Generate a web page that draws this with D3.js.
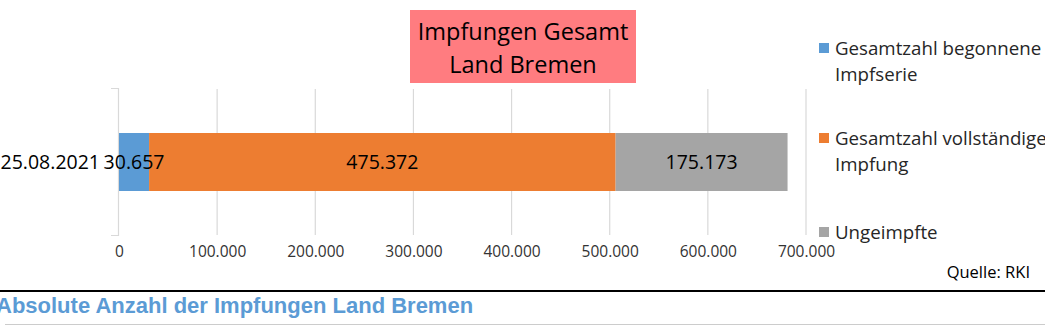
<!DOCTYPE html>
<html>
<head>
<meta charset="utf-8">
<script src="https://cdn.jsdelivr.net/npm/d3@7/dist/d3.min.js"></script>
<style>
  html, body { margin: 0; padding: 0; background: #fff; overflow: hidden; }
  svg { display: block; }
</style>
</head>
<body>
<svg id="chart" width="1045" height="325"></svg>
<script>
// Impfungen Land Bremen, Stand 25.08.2021
const categories = ["25.08.2021"];
const seriesNames = [
  ["Gesamtzahl begonnene", "Impfserie"],
  ["Gesamtzahl vollständige", "Impfung"],
  ["Ungeimpfte"]
];
const seriesKeys = ["begonnen", "vollstaendig", "ungeimpft"];
const begonnen = [30657];
const vollstaendig = [475372];
const ungeimpft = [175173];
const tickValues = [0, 100000, 200000, 300000, 400000, 500000, 600000, 700000];
const colors = ["#5B9BD5", "#ED7D31", "#A5A5A5"];

const rows = categories.map((c, i) => ({
  date: c,
  begonnen: begonnen[i],
  vollstaendig: vollstaendig[i],
  ungeimpft: ungeimpft[i]
}));

const fmt = v => d3.format(",")(v).replace(/,/g, ".");
const font = "'Open Sans', Calibri, sans-serif";

const svg = d3.select("#chart");

const x = d3.scaleLinear().domain([0, 700000]).range([119, 806]);

// gridlines
svg.append("g")
  .selectAll("line")
  .data(tickValues.slice(1))
  .join("line")
  .attr("x1", d => x(d)).attr("x2", d => x(d))
  .attr("y1", 89).attr("y2", 235)
  .attr("stroke", "#D9D9D9").attr("stroke-width", 1.2);

// category axis with bracket ends
svg.append("path")
  .attr("d", `M111,88.5H118.5V235.5H111`)
  .attr("fill", "none").attr("stroke", "#D9D9D9").attr("stroke-width", 1.2);

// value axis labels
const xAxis = d3.axisBottom(x).tickValues(tickValues).tickSize(0).tickPadding(0).tickFormat(fmt);
const gx = svg.append("g").attr("transform", "translate(0,252)").call(xAxis);
gx.select(".domain").remove();
gx.selectAll("text")
  .attr("font-family", font).attr("font-size", 15.5).attr("fill", "#333")
  .attr("dy", "0.35em");

// stacked bars
const stack = d3.stack().keys(seriesKeys)(rows);
svg.append("g")
  .selectAll("g")
  .data(stack)
  .join("g")
  .attr("fill", (d, i) => colors[i])
  .selectAll("rect")
  .data(d => d)
  .join("rect")
  .attr("x", d => x(d[0]))
  .attr("width", d => x(d[1]) - x(d[0]))
  .attr("y", 133)
  .attr("height", 58);

// value labels, centered in each segment
stack.forEach((s) => {
  s.forEach(d => {
    svg.append("text")
      .attr("x", (x(d[0]) + x(d[1])) / 2)
      .attr("y", 162)
      .attr("dy", "0.35em")
      .attr("text-anchor", "middle")
      .attr("font-family", font).attr("font-size", 19.5).attr("fill", "#000")
      .text(fmt(d.data[s.key]));
  });
});

// category label
svg.append("text")
  .attr("x", 100).attr("y", 162).attr("dy", "0.35em")
  .attr("text-anchor", "end")
  .attr("font-family", font).attr("font-size", 19.5).attr("fill", "#000")
  .text(categories[0]);

// title box
svg.append("rect")
  .attr("x", 410).attr("y", 10).attr("width", 226).attr("height", 73)
  .attr("fill", "#FF7C80");
const title = svg.append("text")
  .attr("text-anchor", "middle")
  .attr("font-family", font).attr("font-size", 23.5).attr("fill", "#000");
title.append("tspan").attr("x", 523).attr("y", 40).text("Impfungen Gesamt");
title.append("tspan").attr("x", 523).attr("y", 73).text("Land Bremen");

// legend
const legendY = [48, 138, 232];
const lg = svg.append("g");
seriesNames.forEach((lines, i) => {
  lg.append("rect")
    .attr("x", 819).attr("y", legendY[i] - 5).attr("width", 10).attr("height", 10)
    .attr("fill", colors[i]);
  const t = lg.append("text")
    .attr("font-family", font).attr("font-size", 18.7).attr("fill", "#262626");
  lines.forEach((ln, j) => {
    t.append("tspan").attr("x", 835).attr("y", legendY[i] + j * 26).attr("dy", "0.35em").text(ln);
  });
});

// source note
svg.append("text")
  .attr("x", 1030).attr("y", 272).attr("dy", "0.35em")
  .attr("text-anchor", "end")
  .attr("font-family", font).attr("font-size", 16.5).attr("fill", "#000")
  .text("Quelle: RKI");

// rule + caption below
svg.append("line")
  .attr("x1", 0).attr("x2", 1045).attr("y1", 291).attr("y2", 291)
  .attr("stroke", "#000").attr("stroke-width", 2);
svg.append("text")
  .attr("x", -4).attr("y", 313)
  .attr("font-family", "'Liberation Sans', Arial, sans-serif")
  .attr("font-weight", "bold").attr("font-size", 22).attr("fill", "#5B9BD5")
  .text("Absolute Anzahl der Impfungen Land Bremen");
svg.append("line")
  .attr("x1", 5).attr("x2", 1045).attr("y1", 324.5).attr("y2", 324.5)
  .attr("stroke", "#CCCCCC").attr("stroke-width", 1);
</script>
</body>
</html>
